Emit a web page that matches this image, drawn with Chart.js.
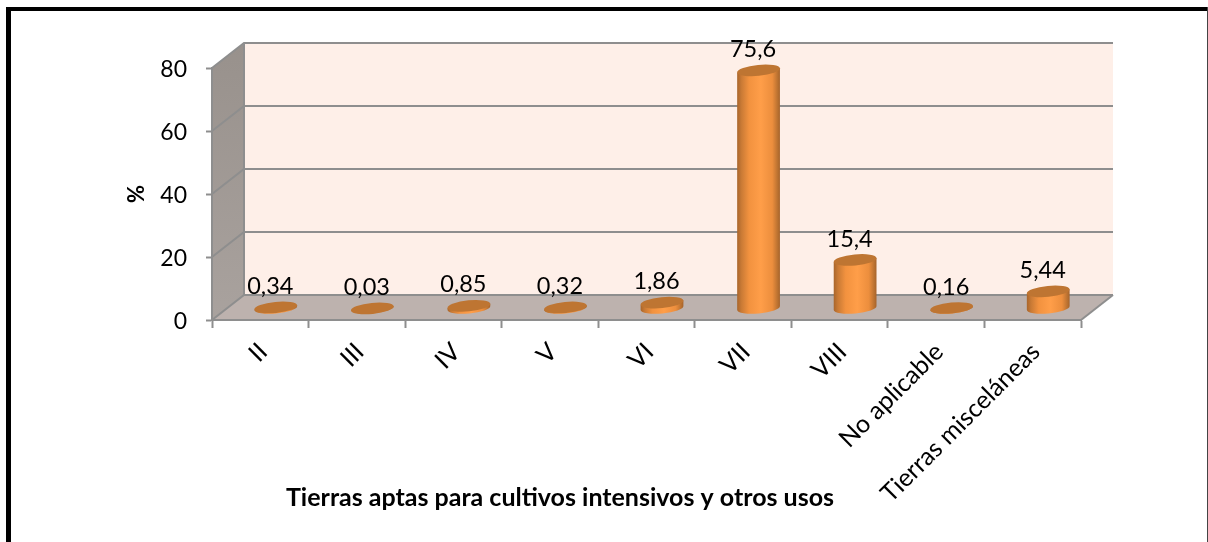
<!DOCTYPE html>
<html><head><meta charset="utf-8">
<style>html,body{margin:0;padding:0;background:#fff}#w{width:1208px;height:542px}canvas{display:block}</style>
<script src="https://cdn.jsdelivr.net/npm/chart.js@4"></script>
</head><body><div id="w"><canvas id="c" width="1208" height="542"></canvas></div>
<script>
const categories = ['II','III','IV','V','VI','VII','VIII','No aplicable','Tierras misceláneas'];
const values = [0.34,0.03,0.85,0.32,1.86,75.6,15.4,0.16,5.44];
const valueLabels = ['0,34','0,03','0,85','0,32','1,86','75,6','15,4','0,16','5,44'];
const xTitle = 'Tierras aptas para cultivos intensivos y otros usos';
const yTitle = '%';
const FONT = 'Lato, Carlito, sans-serif';
const GRID = '#8e8e8e';
const DX = 32, DY = -25;

const scene = {
  id:'scene',
  beforeDraw(chart){
    const {ctx, scales:{x,y}} = chart;
    const L=x.left,R=x.right,T=y.getPixelForValue(80),B=y.getPixelForValue(0);
    ctx.save();
    ctx.fillStyle='#fff';ctx.fillRect(0,0,1208,542);
    ctx.fillStyle='#000';ctx.fillRect(6,7,1202,4);ctx.fillRect(6,7,5,535);
    ctx.fillStyle='#444';ctx.fillRect(1207,7,1,535);
    // back wall
    ctx.fillStyle='#FEEFE8';ctx.fillRect(L+DX,T+DY,R-L,B-T);
    // side wall
    const g=ctx.createLinearGradient(0,T+DY,0,B);
    g.addColorStop(0,'#98918C');g.addColorStop(1,'#A9A29E');
    ctx.fillStyle=g;ctx.beginPath();ctx.moveTo(L,T);ctx.lineTo(L+DX,T+DY);ctx.lineTo(L+DX,B+DY);ctx.lineTo(L,B);ctx.closePath();ctx.fill();
    // floor
    ctx.fillStyle='#BDB2AE';ctx.beginPath();ctx.moveTo(L,B);ctx.lineTo(L+DX,B+DY);ctx.lineTo(R+DX,B+DY);ctx.lineTo(R,B);ctx.closePath();ctx.fill();
    // grid
    ctx.strokeStyle=GRID;ctx.lineWidth=2;
    y.ticks.forEach(t=>{
      const p=y.getPixelForValue(t.value);
      ctx.beginPath();ctx.moveTo(L,p);ctx.lineTo(L+DX,p+DY);ctx.lineTo(R+DX,p+DY);ctx.stroke();
    });
    ctx.beginPath();ctx.moveTo(L+DX,T+DY);ctx.lineTo(L+DX,B+DY);ctx.stroke();
    ctx.beginPath();ctx.moveTo(R,B);ctx.lineTo(R+DX,B+DY);ctx.stroke();
    ctx.restore();
  },
  afterDatasetsDraw(chart){
    const {ctx} = chart, meta=chart.getDatasetMeta(0);
    const tilt=-5.5*Math.PI/180;
    ctx.save();
    meta.data.forEach((el,i)=>{
      const cx=el.x+DX/2-0.5, topY=el.y+DY/2+1, baseY=el.base+DY/2+1;
      const rx=el.width/2, ry=5.5;
      const ex=rx*Math.cos(tilt), ey=rx*Math.sin(tilt);
      const g=ctx.createLinearGradient(cx-rx,0,cx+rx,0);
      g.addColorStop(0,'#A8652B');g.addColorStop(.1,'#C97A35');g.addColorStop(.28,'#F2923F');
      g.addColorStop(.55,'#FF9E49');g.addColorStop(.82,'#EC8E3D');g.addColorStop(.95,'#B87030');g.addColorStop(1,'#A5622A');
      ctx.fillStyle=g;
      ctx.beginPath();
      ctx.moveTo(cx-ex,topY-ey);
      ctx.lineTo(cx-ex,baseY-ey);
      ctx.ellipse(cx,baseY,rx,ry,tilt,Math.PI,0,true);
      ctx.lineTo(cx+ex,topY+ey);
      ctx.closePath();ctx.fill();
      ctx.fillStyle='#BE7532';
      ctx.beginPath();ctx.ellipse(cx,topY,rx,ry,tilt,0,Math.PI*2);ctx.fill();
      ctx.fillStyle='#000';ctx.font='23.5px '+FONT;ctx.textAlign='center';ctx.textBaseline='middle';
      ctx.fillText(valueLabels[i],cx-5.5,topY-21);
    });
    ctx.fillStyle='#000';ctx.font='bold 25px '+FONT;ctx.textAlign='center';ctx.textBaseline='middle';
    ctx.fillText(xTitle,560,498);
    ctx.restore();
  }
};

new Chart(document.getElementById('c'),{
  type:'bar',
  data:{labels:categories,datasets:[{data:values,backgroundColor:'rgba(0,0,0,0)',borderWidth:0,barPercentage:0.445,categoryPercentage:1}]},
  plugins:[scene],
  options:{
    responsive:false,animation:false,
    layout:{padding:{left:0,top:68,right:127,bottom:0}},
    plugins:{legend:{display:false},tooltip:{enabled:false},title:{display:false}},
    scales:{
      x:{
        afterFit(s){s.height=222;},
        grid:{drawOnChartArea:false,drawTicks:true,tickLength:8,tickColor:GRID,tickWidth:2,offset:true},
        border:{color:GRID,width:2},
        ticks:{color:'#000',font:{family:FONT,size:25},minRotation:45,maxRotation:45,autoSkip:false,padding:9,labelOffset:3}
      },
      y:{
        min:0,max:80,
        afterFit(s){s.width=212;},
        grid:{drawOnChartArea:false,drawTicks:true,tickLength:6,tickColor:GRID,tickWidth:2},
        border:{color:GRID,width:2},
        ticks:{color:'#000',font:{family:FONT,size:23},stepSize:20,padding:19,labelOffset:2},
        title:{display:true,text:yTitle,color:'#000',font:{family:FONT,size:22,weight:'bold'},padding:{top:124,bottom:0}}
      }
    }
  }
});
</script></body></html>
